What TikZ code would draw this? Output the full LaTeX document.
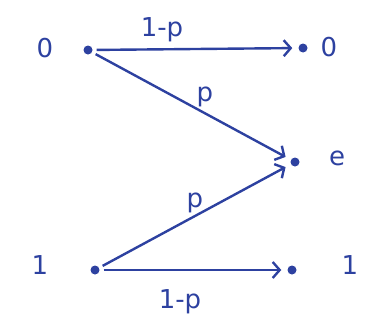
\documentclass[tikz,border=0pt]{standalone}
\usepackage{fontspec}
\setmainfont{DejaVu Sans}
\usetikzlibrary{arrows.meta}
\definecolor{ink}{RGB}{45,65,160}
\begin{document}
\begin{tikzpicture}[x=1pt,y=-1pt,
  dotnode/.style={circle,fill=ink,inner sep=0pt,minimum size=9pt},
  lbl/.style={text=ink,font=\fontsize{26}{28}\selectfont},
  conn/.style={draw=ink,line width=2.4pt,-{Straight Barb[length=7pt,width=16pt,line width=2.4pt]},shorten >=6pt,shorten <=4pt}]
\useasboundingbox (0,0) rectangle (386,332);
\node[dotnode] (x0) at (88,50) {};
\node[dotnode] (x1) at (95,270) {};
\node[dotnode] (y0) at (303,48) {};
\node[dotnode] (ye) at (295,162) {};
\node[dotnode] (y1) at (292,270) {};
\node[lbl] (lx0) at (45,48) {0};
\node[lbl] (lx1) at (40,265) {1};
\node[lbl] (ly0) at (329,47) {0};
\node[lbl] (lye) at (337,158) {e};
\node[lbl] (ly1) at (350,265) {1};
\draw[conn] (x0) -- (y0);
\draw[conn] (x0) -- (ye);
\draw[conn] (x1) -- (ye);
\draw[conn] (x1) -- (y1);
\node[lbl] (t1) at (162,30) {1-p};
\node[lbl] (t2) at (205,97) {p};
\node[lbl] (t3) at (195,203) {p};
\node[lbl] (t4) at (180,302) {1-p};
\end{tikzpicture}
\end{document}
